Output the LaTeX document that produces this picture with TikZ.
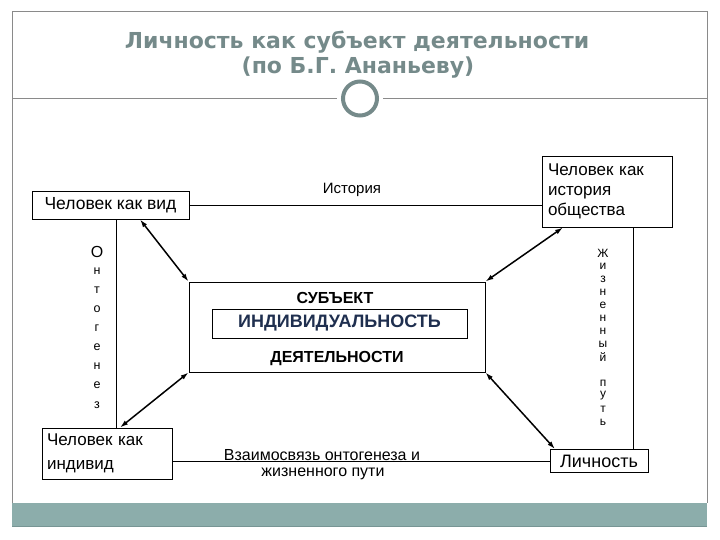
\documentclass[tikz,border=0pt]{standalone}
\usepackage{fontspec}
\setmainfont{Liberation Sans}
\newfontfamily\titlefont{DejaVu Sans}
\usetikzlibrary{arrows.meta}
\definecolor{titlegray}{HTML}{758A8A}
\definecolor{framegray}{HTML}{8A8A8A}
\definecolor{bandteal}{HTML}{8CADAB}
\definecolor{bandedge}{HTML}{779594}
\definecolor{darkblue}{HTML}{1F2F4F}
\tikzset{
  box/.style={draw=black, line width=0.9pt, inner sep=0pt, font=\fontsize{17}{20}\selectfont},
  dbl/.style={line width=1.5pt, {Latex[length=8pt,width=5pt]}-{Latex[length=8pt,width=5pt]}},
  conn/.style={line width=0.9pt},
  small/.style={inner sep=0pt, font=\fontsize{15}{17}\selectfont},
  letter/.style={inner sep=0pt, font=\fontsize{12.5}{13}\selectfont},
  caps/.style={inner sep=0pt, font=\bfseries\fontsize{16}{18}\selectfont}
}
\begin{document}
\begin{tikzpicture}[x=1pt,y=-1pt]
\useasboundingbox (0,0) rectangle (720,540);
% frame
\draw[framegray, line width=1pt] (12,503) -- (12,12) -- (707,12) -- (707,503);
\fill[bandteal] (12,503) rectangle (707,527);
\draw[bandedge, line width=1pt] (12,526.5) -- (707,526.5);
\draw[framegray, line width=1pt] (12,99) -- (337,99);
\draw[framegray, line width=1pt] (383,99) -- (707,99);
\node[circle, draw=titlegray, line width=4pt, minimum size=34pt, inner sep=0pt] (ring) at (360,98.5) {};
% title
\node[inner sep=0pt, text=titlegray, font=\titlefont\bfseries\fontsize{22}{26}\selectfont] (t1) at (357,42) {Личность как субъект деятельности};
\node[inner sep=0pt, text=titlegray, font=\titlefont\bfseries\fontsize{22}{26}\selectfont] (t2) at (358,68) {(по Б.Г. Ананьеву)};
% boxes
\node[box, minimum width=157pt, minimum height=28pt, font=\fontsize{17.5}{20}\selectfont] (vid) at (110.5,205) {Человек как вид};
\node[box, minimum width=130pt, minimum height=71pt, align=left, text width=118pt] (hist) at (607,191.5) {Человек как\\история\\общества};
\node[box, minimum width=130pt, minimum height=51pt, align=left, text width=120pt, font=\fontsize{17}{24}\selectfont] (indiv) at (107,453.5) {Человек как\\индивид};
\node[box, minimum width=98pt, minimum height=23pt, font=\fontsize{18}{20}\selectfont] (lich) at (599,461) {Личность};
\node[box, minimum width=296pt, minimum height=90pt] (center) at (337,327) {};
\node[box, minimum width=255pt, minimum height=29pt, text=darkblue, font=\bfseries\fontsize{18}{20}\selectfont] (inner) at (339.5,323.5) {ИНДИВИДУАЛЬНОСТЬ};
\node[caps] (subj) at (335,298) {СУБЪЕКТ};
\node[caps] (deyat) at (337,359) {ДЕЯТЕЛЬНОСТИ};
% coordinates for vertical lines
\coordinate (lx) at (116,0);
\coordinate (rx) at (633,0);
% connectors
\draw[conn] (vid.east) -- (vid.east -| hist.west);
\draw[conn] (vid.south -| lx) -- (indiv.north -| lx);
\draw[conn] (hist.south -| rx) -- (lich.north -| rx);
\draw[conn] (indiv.east |- lich.west) -- (lich.west);
% double arrows
\draw[dbl] ([xshift=29.5pt]vid.south) -- (center.north west);
\draw[dbl] ([xshift=-44pt]hist.south) -- (center.north east);
\draw[dbl] ([xshift=13pt]indiv.north) -- (center.south west);
\draw[dbl] ([xshift=-44pt]lich.north) -- (center.south east);
% labels
\node[small] (histlab) at (352,190) {История};
\node[inner sep=0pt, font=\fontsize{16}{18}\selectfont] (vz1) at (322,455) {Взаимосвязь онтогенеза и};
\node[inner sep=0pt, font=\fontsize{16}{18}\selectfont] (vz2) at (323,474) {жизненного пути};
% ontogenez
\node[inner sep=0pt, font=\fontsize{16}{17}\selectfont] (o1) at (97,252) {О};
\foreach \ch/\yy [count=\i] in {н/271, т/290, о/309, г/328, е/347, н/366, е/385, з/405}{
  \node[letter] (on\i) at (97,\yy) {\ch};
}
% zhiznenny put
\foreach \ch/\yy [count=\i] in {Ж/253, и/266, з/279, н/292, е/305, н/318, н/331, ы/344, й/357, п/383, у/396, т/409, ь/422}{
  \node[letter, font=\fontsize{12}{13}\selectfont] (zh\i) at (603,\yy) {\ch};
}
\end{tikzpicture}
\end{document}
